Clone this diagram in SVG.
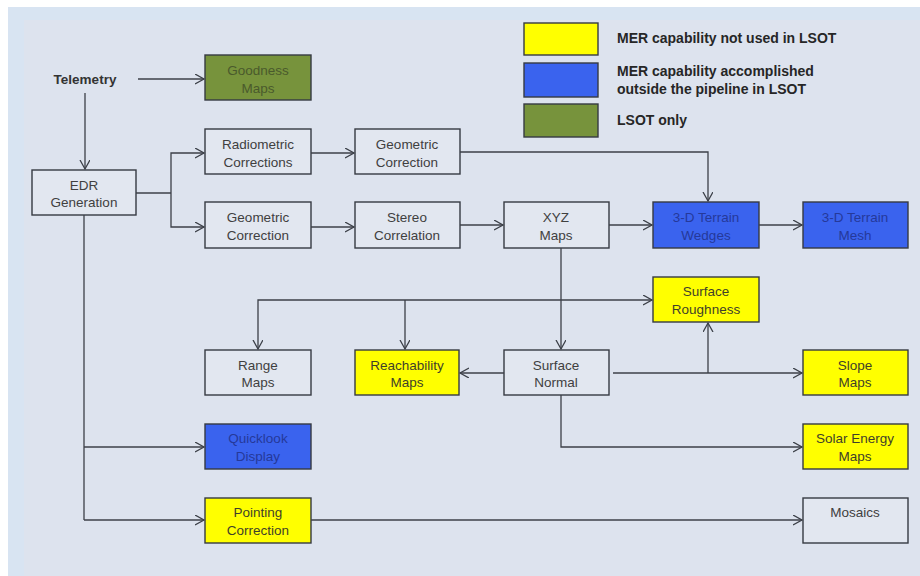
<svg xmlns="http://www.w3.org/2000/svg" width="920" height="576" viewBox="0 0 920 576">
  <defs>
    <marker id="arr" markerUnits="userSpaceOnUse" markerWidth="12" markerHeight="12" refX="9" refY="5" orient="auto">
      <path d="M0,0 L9,5 L0,10" fill="none" stroke="#3c4048" stroke-width="1.3"/>
    </marker>
    <style>
      .box { stroke: #363a42; stroke-width: 1.4; }
      .plain { fill: #e2e7f0; }
      .yellow { fill: #ffff00; }
      .blue { fill: #3a63ee; }
      .green { fill: #77933c; }
      .t { font-family: "Liberation Sans", Arial, sans-serif; font-size: 13.5px; text-anchor: middle; fill: #404040; }
      .tb { fill: #25399a; }
      .tg { fill: #4a5a2c; }
      .ty { fill: #3f3f2a; }
      .leg { font-family: "Liberation Sans", Arial, sans-serif; font-size: 14px; font-weight: bold; fill: #262626; }
      .conn path { fill: none; stroke: #3c4048; stroke-width: 1.3; }
      .conn path.a { marker-end: url(#arr); }
    </style>
  </defs>
  <rect x="0" y="0" width="920" height="576" fill="#ffffff"/>
  <rect x="8" y="7" width="912" height="569" fill="#d8e4f2"/>
  <rect x="24" y="20" width="896" height="556" fill="#dde3ee"/>

  <g id="legend">
    <rect class="box yellow" x="524" y="23" width="74" height="32"/>
    <rect class="box blue" x="524" y="63" width="74" height="34"/>
    <rect class="box green" x="524" y="104" width="74" height="33"/>
    <text class="leg" x="617" y="43">MER capability not used in LSOT</text>
    <text class="leg" x="617" y="76">MER capability accomplished</text>
    <text class="leg" x="617" y="94">outside the pipeline in LSOT</text>
    <text class="leg" x="617" y="125">LSOT only</text>
  </g>

  <g id="telemetry">
    <text class="t" x="85" y="84" style="font-weight:bold;fill:#333">Telemetry</text>
  </g>
  <g id="goodness">
    <rect class="box green" x="205" y="55" width="106" height="45"/>
    <text class="t tg" x="258" y="75">Goodness</text>
    <text class="t tg" x="258" y="93">Maps</text>
  </g>
  <g id="edr">
    <rect class="box plain" x="32" y="170" width="104" height="45"/>
    <text class="t" x="84" y="190">EDR</text>
    <text class="t" x="84" y="207">Generation</text>
  </g>
  <g id="radiometric">
    <rect class="box plain" x="205" y="129" width="106" height="45"/>
    <text class="t" x="258" y="149">Radiometric</text>
    <text class="t" x="258" y="167">Corrections</text>
  </g>
  <g id="geom-top">
    <rect class="box plain" x="355" y="129" width="105" height="45"/>
    <text class="t" x="407" y="149">Geometric</text>
    <text class="t" x="407" y="167">Correction</text>
  </g>
  <g id="geom-bot">
    <rect class="box plain" x="205" y="202" width="106" height="46"/>
    <text class="t" x="258" y="222">Geometric</text>
    <text class="t" x="258" y="240">Correction</text>
  </g>
  <g id="stereo">
    <rect class="box plain" x="355" y="202" width="105" height="46"/>
    <text class="t" x="407" y="222">Stereo</text>
    <text class="t" x="407" y="240">Correlation</text>
  </g>
  <g id="xyz">
    <rect class="box plain" x="504" y="202" width="105" height="46"/>
    <text class="t" x="556" y="222">XYZ</text>
    <text class="t" x="556" y="240">Maps</text>
  </g>
  <g id="wedges">
    <rect class="box blue" x="653" y="202" width="106" height="46"/>
    <text class="t tb" x="706" y="222">3-D Terrain</text>
    <text class="t tb" x="706" y="240">Wedges</text>
  </g>
  <g id="mesh">
    <rect class="box blue" x="803" y="202" width="105" height="46"/>
    <text class="t tb" x="855" y="222">3-D Terrain</text>
    <text class="t tb" x="855" y="240">Mesh</text>
  </g>
  <g id="roughness">
    <rect class="box yellow" x="653" y="277" width="106" height="45"/>
    <text class="t ty" x="706" y="296">Surface</text>
    <text class="t ty" x="706" y="314">Roughness</text>
  </g>
  <g id="range">
    <rect class="box plain" x="205" y="350" width="106" height="45"/>
    <text class="t" x="258" y="370">Range</text>
    <text class="t" x="258" y="387">Maps</text>
  </g>
  <g id="reachability">
    <rect class="box yellow" x="355" y="350" width="104" height="45"/>
    <text class="t ty" x="407" y="370">Reachability</text>
    <text class="t ty" x="407" y="387">Maps</text>
  </g>
  <g id="surface-normal">
    <rect class="box plain" x="504" y="350" width="105" height="45"/>
    <text class="t" x="556" y="370">Surface</text>
    <text class="t" x="556" y="387">Normal</text>
  </g>
  <g id="slope">
    <rect class="box yellow" x="803" y="350" width="105" height="45"/>
    <text class="t ty" x="855" y="370">Slope</text>
    <text class="t ty" x="855" y="387">Maps</text>
  </g>
  <g id="quicklook">
    <rect class="box blue" x="205" y="424" width="106" height="45"/>
    <text class="t tb" x="258" y="443">Quicklook</text>
    <text class="t tb" x="258" y="461">Display</text>
  </g>
  <g id="solar">
    <rect class="box yellow" x="803" y="424" width="105" height="45"/>
    <text class="t ty" x="855" y="443">Solar Energy</text>
    <text class="t ty" x="855" y="461">Maps</text>
  </g>
  <g id="pointing">
    <rect class="box yellow" x="205" y="498" width="106" height="45"/>
    <text class="t ty" x="258" y="517">Pointing</text>
    <text class="t ty" x="258" y="535">Correction</text>
  </g>
  <g id="mosaics">
    <rect class="box plain" x="803" y="498" width="105" height="45"/>
    <text class="t" x="855" y="517">Mosaics</text>
  </g>

  <g id="connectors" class="conn">
    <path class="a" d="M138,79 H204"/>
    <path class="a" d="M85,93 V169"/>
    <path d="M136,193 H171"/>
    <path class="a" d="M171,193 V153 H204"/>
    <path class="a" d="M171,193 V227 H204"/>
    <path class="a" d="M311,153 H354"/>
    <path class="a" d="M311,227 H354"/>
    <path class="a" d="M460,152 H708 V201"/>
    <path class="a" d="M460,225 H503"/>
    <path class="a" d="M609,225 H652"/>
    <path class="a" d="M759,225 H802"/>
    <path class="a" d="M561,248 V349"/>
    <path class="a" d="M561,300 H652"/>
    <path class="a" d="M561,300 H258 V349"/>
    <path class="a" d="M405,300 V349"/>
    <path class="a" d="M504,373 H460"/>
    <path class="a" d="M613,373 H802"/>
    <path class="a" d="M708,373 V323"/>
    <path class="a" d="M561,395 V447 H802"/>
    <path d="M84,215 V520"/>
    <path class="a" d="M84,447 H204"/>
    <path class="a" d="M84,520 H204"/>
    <path class="a" d="M311,520 H802"/>
  </g>
</svg>
